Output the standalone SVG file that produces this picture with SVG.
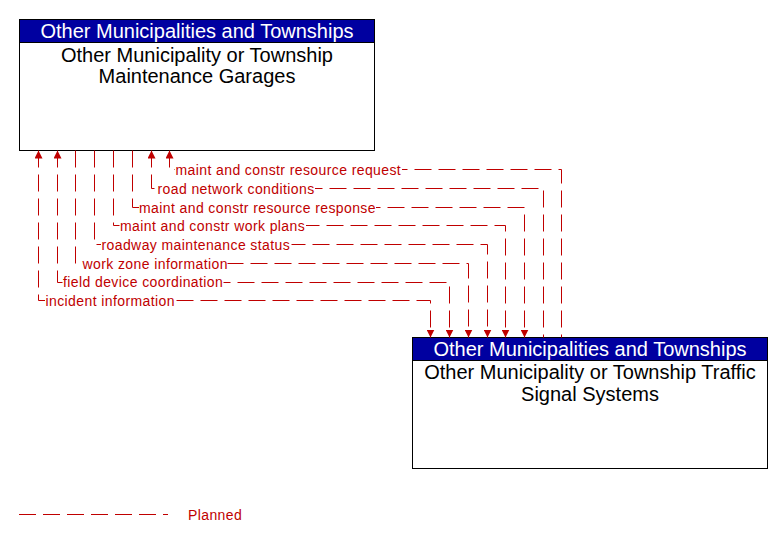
<svg xmlns="http://www.w3.org/2000/svg" width="783" height="543" viewBox="0 0 783 543">
<style>
.box{fill:#ffffff;stroke:#000000;stroke-width:1}
.hdr{fill:#0000a0;stroke:#000000;stroke-width:1}
.ht{font-family:"Liberation Sans",Arial,sans-serif;font-size:20px;fill:#ffffff;text-anchor:middle}
.nt{font-family:"Liberation Sans",Arial,sans-serif;font-size:20px;fill:#000000;text-anchor:middle}
.flow{fill:none;stroke:#c00000;stroke-width:1;stroke-dasharray:17 7}
.lbl{font-family:"Liberation Sans",Arial,sans-serif;font-size:14px;letter-spacing:0.4px;fill:#c00000}
.bg{fill:#ffffff}
</style>
<defs>
<marker id="arr" markerUnits="userSpaceOnUse" markerWidth="8" markerHeight="8" refX="8" refY="4" orient="auto-start-reverse" viewBox="0 0 8 8">
<path d="M0,0 L8,4 L0,8 z" fill="#c00000"/>
</marker>
</defs>
<g id="garages">
<rect class="box" x="19.5" y="19.5" width="355" height="131"/>
<rect class="hdr" x="19.5" y="19.5" width="355" height="23"/>
<text class="ht" x="197" y="37.5">Other Municipalities and Townships</text>
<text class="nt" x="197" y="61.5">Other Municipality or Township</text>
<text class="nt" x="197" y="82.5">Maintenance Garages</text>
</g>
<g id="signals">
<rect class="box" x="412.5" y="337.5" width="355" height="131"/>
<rect class="hdr" x="412.5" y="337.5" width="355" height="23"/>
<text class="ht" x="590" y="356">Other Municipalities and Townships</text>
<text class="nt" x="590" y="379">Other Municipality or Township Traffic</text>
<text class="nt" x="590" y="400.5">Signal Systems</text>
</g>
<g id="connectors">
<path class="flow" d="M169.5,150.5 V169.5 H561.5 V337.5" marker-start="url(#arr)"/>
<path class="flow" d="M151.5,150.5 V188.5 H543.5 V337.5" marker-start="url(#arr)"/>
<path class="flow" d="M132.5,150.5 V207.5 H524.5 V337.5" marker-end="url(#arr)"/>
<path class="flow" d="M113.5,150.5 V225.5 H505.5 V337.5" marker-end="url(#arr)"/>
<path class="flow" d="M94.5,150.5 V244.5 H487.5 V337.5" marker-end="url(#arr)"/>
<path class="flow" d="M75.5,150.5 V263.5 H468.5 V337.5" marker-end="url(#arr)"/>
<path class="flow" d="M57.5,150.5 V282.5 H449.5 V337.5" marker-start="url(#arr)" marker-end="url(#arr)"/>
<path class="flow" d="M38.5,150.5 V300.5 H430.5 V337.5" marker-start="url(#arr)" marker-end="url(#arr)"/>
<rect class="bg" x="175" y="162" width="227" height="15"/>
<text class="lbl" x="175.5" y="174.5">maint and constr resource request</text>
<rect class="bg" x="157" y="181" width="158" height="15"/>
<text class="lbl" x="157.5" y="193.5">road network conditions</text>
<rect class="bg" x="139" y="200" width="237" height="15"/>
<text class="lbl" x="139" y="212.5">maint and constr resource response</text>
<rect class="bg" x="119.5" y="218" width="186.5" height="15"/>
<text class="lbl" x="120" y="230.5">maint and constr work plans</text>
<rect class="bg" x="101" y="237" width="190.5" height="15"/>
<text class="lbl" x="101.5" y="249.5">roadway maintenance status</text>
<rect class="bg" x="82" y="256" width="145.5" height="15"/>
<text class="lbl" x="82.5" y="268.5">work zone information</text>
<rect class="bg" x="63" y="275" width="160.5" height="15"/>
<text class="lbl" x="63" y="287">field device coordination</text>
<rect class="bg" x="45" y="293" width="129.5" height="15"/>
<text class="lbl" x="45.5" y="305.5">incident information</text>
</g>
<g id="legend">
<path class="flow" d="M19,514.5 H168"/>
<text class="lbl" x="188" y="520">Planned</text>
</g>
</svg>
